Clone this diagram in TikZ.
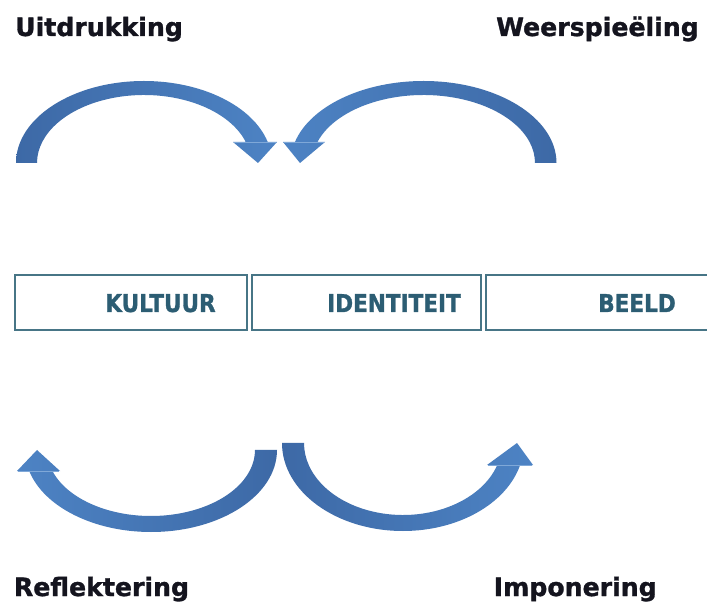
\documentclass[tikz,border=0pt]{standalone}
\usepackage{fontspec}
\setmainfont{DejaVu Sans}
\newfontfamily\headfont[BoldFeatures={FakeBold=1.2}]{DejaVu Sans}
\newfontfamily\boxfont[FakeStretch=0.88, BoldFeatures={FakeBold=1.2}]{DejaVu Sans}
\definecolor{arrowdark}{HTML}{3D69A6}
\definecolor{arrowlight}{HTML}{4D83C4}
\definecolor{arrowseam}{HTML}{7FA8D8}
\definecolor{boxline}{HTML}{477586}
\definecolor{boxtext}{HTML}{2C5D73}
\definecolor{headtext}{HTML}{14141E}
\begin{document}
\begin{tikzpicture}[x=1pt,y=1pt,
  headlabel/.style={font=\headfont\bfseries\fontsize{25.2}{30}\selectfont, text=headtext, inner sep=0pt, anchor=base west},
  boxlabel/.style={font=\boxfont\bfseries\fontsize{24.5}{28}\selectfont, text=boxtext, inner sep=0pt, anchor=base},
  framebox/.style={draw=boxline, line width=2.5pt, minimum height=55pt, inner sep=0pt},
  seam/.style={draw=arrowseam, line width=0.8pt}]
\useasboundingbox (0,0) rectangle (707,603);
\fill[white] (0,0) rectangle (707,603);
\clip (0,0) rectangle (707,603);

% headings
\node[headlabel] (uit) at (15,567) {Uitdrukking};
\node[headlabel] (weer) at (496,567) {Weerspieëling};
\node[headlabel] (refl) at (13.7,7) {Reflektering};
\node[headlabel] (impo) at (493.5,7) {Imponering};

% boxes
\node[framebox, minimum width=232pt] (boxK) at (131,300.5) {};
\node[framebox, minimum width=229pt] (boxI) at (366.5,300.5) {};
\node[framebox, minimum width=234pt] (boxB) at (603,300.5) {};
\node[boxlabel] (tK) at (160.5,291) {KULTUUR};
\node[boxlabel] (tI) at (394,291) {IDENTITEIT};
\node[boxlabel] (tB) at (637,291) {BEELD};

% top-left curved arrow (Uitdrukking)
\shade[left color=arrowdark, right color=arrowlight]
  (16,440) arc[start angle=180, end angle=14.84, x radius=128pt, y radius=82pt]
  -- (277,461) -- (258,440) -- (233,461)
  -- ([shift={(144,440)}]17.99:107pt and 68pt)
  arc[start angle=17.99, end angle=180, x radius=107pt, y radius=68pt] -- cycle;
\path[seam] (234,461) -- (276,461);

% top-right curved arrow (Weerspieeling)
\shade[left color=arrowlight, right color=arrowdark]
  (556.5,440) arc[start angle=0, end angle=165.16, x radius=133pt, y radius=82pt]
  -- (283,461) -- (300,440) -- (325,461)
  -- ([shift={(423.5,440)}]162.01:111.5pt and 68pt)
  arc[start angle=162.01, end angle=0, x radius=111.5pt, y radius=68pt] -- cycle;
\path[seam] (284,461) -- (324,461);

% bottom-left curved arrow (Reflektering)
\shade[left color=arrowlight, right color=arrowdark]
  (277,153) arc[start angle=0, end angle=-165.16, x radius=126pt, y radius=82pt]
  -- (17,132) -- (37,153) -- (60,132)
  -- ([shift={(151,153)}]-161.45:104pt and 66pt)
  arc[start angle=-161.45, end angle=0, x radius=104pt, y radius=66pt] -- cycle;
\path[seam] (18,132) -- (59,132);

% bottom-right curved arrow (Imponering)
\shade[left color=arrowdark, right color=arrowlight]
  (282,160) arc[start angle=-180, end angle=-14.48, x radius=121pt, y radius=88pt]
  -- (533,138) -- (517,160) -- (487,138)
  -- ([shift={(403,160)}]-17.79:99pt and 72pt)
  arc[start angle=-17.79, end angle=-180, x radius=99pt, y radius=72pt] -- cycle;
\path[seam] (488,138) -- (532,138);
\end{tikzpicture}
\end{document}
